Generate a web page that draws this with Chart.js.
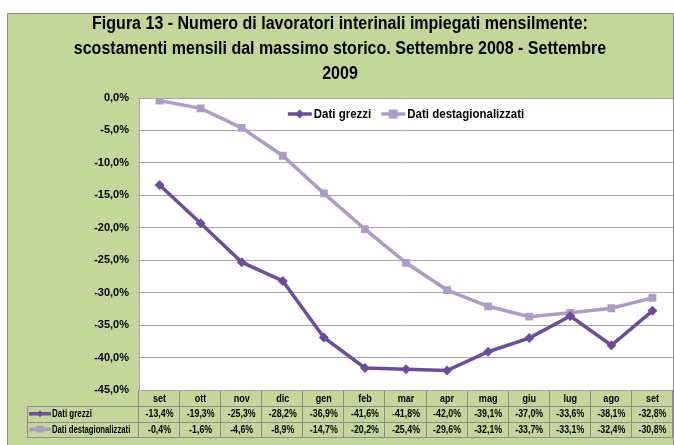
<!DOCTYPE html>
<html><head><meta charset="utf-8">
<script src="https://cdn.jsdelivr.net/npm/chart.js@4/dist/chart.umd.min.js"></script>
<style>html,body{margin:0;padding:0;background:#fff;overflow:hidden}
#wrap{position:absolute;left:0;top:0;width:674px;height:445px}</style>
</head><body><div id="wrap"><canvas id="c" width="674" height="445"></canvas></div>
<script>
const months = ['set','ott','nov','dic','gen','feb','mar','apr','mag','giu','lug','ago','set'];
const grezzi = [-13.4,-19.3,-25.3,-28.2,-36.9,-41.6,-41.8,-42.0,-39.1,-37.0,-33.6,-38.1,-32.8];
const destag = [-0.4,-1.6,-4.6,-8.9,-14.7,-20.2,-25.4,-29.6,-32.1,-33.7,-33.1,-32.4,-30.8];
const yMin = -45, yMax = 0, yStep = 5;
const titleLines = ['Figura 13 - Numero di lavoratori interinali impiegati mensilmente:',
  'scostamenti mensili dal massimo storico. Settembre 2008 - Settembre',
  '2009'];
const seriesNames = ['Dati grezzi','Dati destagionalizzati'];

const DARK = '#6B4E9B', LIGHT = '#AB9CC9', GREEN = '#C4D79B', GRID = '#A6A6A6';
const SANS = '"Liberation Sans",Arial,sans-serif';
const fmt = v => v.toFixed(1).replace('.', ',') + '%';

// draw horizontally condensed text (Calibri-like proportions)
function ctext(ctx, text, x, y, sx, align) {
  ctx.save(); ctx.translate(x, y); ctx.scale(sx, 1);
  ctx.textAlign = align; ctx.fillText(text, 0, 0); ctx.restore();
}

function drawKey(ctx, x, y, w, color, style, r) {
  ctx.save();
  ctx.strokeStyle = color; ctx.lineWidth = 3.5;
  ctx.beginPath(); ctx.moveTo(x, y); ctx.lineTo(x + w, y); ctx.stroke();
  ctx.fillStyle = color;
  const cx = x + w / 2;
  ctx.beginPath();
  if (style === 'rect') { ctx.rect(cx - r, y - r, 2 * r, 2 * r); }
  else { ctx.moveTo(cx, y - r); ctx.lineTo(cx + r, y); ctx.lineTo(cx, y + r); ctx.lineTo(cx - r, y); ctx.closePath(); }
  ctx.fill();
  ctx.restore();
}

const framePlugin = {
  id: 'frame',
  beforeDraw(chart) {
    const ctx = chart.ctx, a = chart.chartArea;
    ctx.save();
    ctx.fillStyle = '#fff'; ctx.fillRect(0, 0, chart.width, chart.height);
    ctx.fillStyle = GREEN; ctx.fillRect(7, 13, 667, 440);
    ctx.strokeStyle = '#8C8C8C'; ctx.lineWidth = 1; ctx.strokeRect(7.5, 13.5, 666, 440);
    ctx.fillStyle = '#fff'; ctx.fillRect(a.left, a.top, a.right - a.left, a.bottom - a.top);
    ctx.fillStyle = '#000'; ctx.textBaseline = 'middle';
    ctx.font = 'bold 18px ' + SANS;
    const ys = [24, 49, 74];
    titleLines.forEach((t, i) => ctext(ctx, t, 340, ys[i], 0.89, 'center'));
    ctx.restore();
  },
  afterDraw(chart) {
    const ctx = chart.ctx, a = chart.chartArea, xs = chart.scales.x;
    ctx.save();
    // legend inside plot
    const sxL = 0.92;
    ctx.font = 'bold 12.5px ' + SANS; ctx.textBaseline = 'middle';
    const keyW = 24, gap = 2, between = 10;
    const w1 = ctx.measureText(seriesNames[0]).width * sxL, w2 = ctx.measureText(seriesNames[1]).width * sxL;
    const total = keyW + gap + w1 + between + keyW + gap + w2;
    let lx = (a.left + a.right) / 2 - total / 2; const ly = a.top + 16;
    drawKey(ctx, lx, ly, keyW, DARK, 'diamond', 4.5); lx += keyW + gap;
    ctx.fillStyle = '#000'; ctext(ctx, seriesNames[0], lx, ly + 0.5, sxL, 'left'); lx += w1 + between;
    drawKey(ctx, lx, ly, keyW, LIGHT, 'rect', 4.5); lx += keyW + gap;
    ctext(ctx, seriesNames[1], lx, ly + 0.5, sxL, 'left');

    // data table
    const n = months.length, bw = (a.right - a.left) / n;
    const y0 = a.bottom, y1 = y0 + 16, y2 = y1 + 15.5, y3 = y2 + 15.5;
    const tl = 27;
    ctx.strokeStyle = '#8E8E8E'; ctx.lineWidth = 1;
    ctx.beginPath();
    [y1, y2, y3].forEach(y => { ctx.moveTo(tl, Math.round(y) + 0.5); ctx.lineTo(a.right, Math.round(y) + 0.5); });
    ctx.moveTo(tl + 0.5, Math.round(y1)); ctx.lineTo(tl + 0.5, Math.round(y3));
    for (let i = 0; i <= n; i++) { const x = Math.round(a.left + i * bw) - 0.5; ctx.moveTo(x, y0); ctx.lineTo(x, Math.round(y3)); }
    ctx.stroke();
    ctx.fillStyle = '#000'; ctx.textBaseline = 'middle';
    ctx.font = 'bold 10.5px ' + SANS;
    months.forEach((m, i) => {
      const x = xs.getPixelForValue(i);
      ctext(ctx, m, x, (y0 + y1) / 2 + 1, 0.86, 'center');
      ctext(ctx, fmt(grezzi[i]), x, (y1 + y2) / 2 + 0.5, 0.84, 'center');
      ctext(ctx, fmt(destag[i]), x, (y2 + y3) / 2 + 0.5, 0.84, 'center');
    });
    ctx.font = 'bold 10px ' + SANS;
    drawKey(ctx, tl + 2, (y1 + y2) / 2, 22, DARK, 'diamond', 3.5);
    ctext(ctx, seriesNames[0], tl + 25, (y1 + y2) / 2 + 0.5, 0.8, 'left');
    drawKey(ctx, tl + 2, (y2 + y3) / 2, 22, LIGHT, 'rect', 3.5);
    ctext(ctx, seriesNames[1], tl + 25, (y2 + y3) / 2 + 0.5, 0.77, 'left');
    ctx.restore();
  }
};

new Chart(document.getElementById('c'), {
  type: 'line',
  data: {
    labels: months,
    datasets: [
      { label: seriesNames[0], data: grezzi, borderColor: DARK, backgroundColor: DARK, borderWidth: 3.5,
        pointStyle: 'rectRot', pointRadius: 5, pointBorderWidth: 0, tension: 0, fill: false },
      { label: seriesNames[1], data: destag, borderColor: LIGHT, backgroundColor: LIGHT, borderWidth: 3.5,
        pointStyle: 'rect', pointRadius: 5.5, pointBorderWidth: 0, tension: 0, fill: false }
    ]
  },
  options: {
    responsive: false, animation: false, devicePixelRatio: 1,
    layout: { autoPadding: false, padding: { top: 98, bottom: 55, left: 0, right: 1 } },
    plugins: { legend: { display: false }, title: { display: false }, tooltip: { enabled: false } },
    scales: {
      x: { type: 'category', offset: true, grid: { display: false }, border: { display: false },
           ticks: { display: false }, afterFit(s) { s.height = 0; } },
      y: { min: yMin, max: yMax,
           ticks: { stepSize: yStep, color: '#000', font: { family: SANS, size: 11, weight: 'bold' }, padding: 10,
                    callback: v => fmt(v) },
           grid: { color: GRID, lineWidth: 1, tickLength: 0 },
           border: { color: GRID },
           afterFit(s) { s.width = 139; } }
    }
  },
  plugins: [framePlugin]
});
</script></body></html>
